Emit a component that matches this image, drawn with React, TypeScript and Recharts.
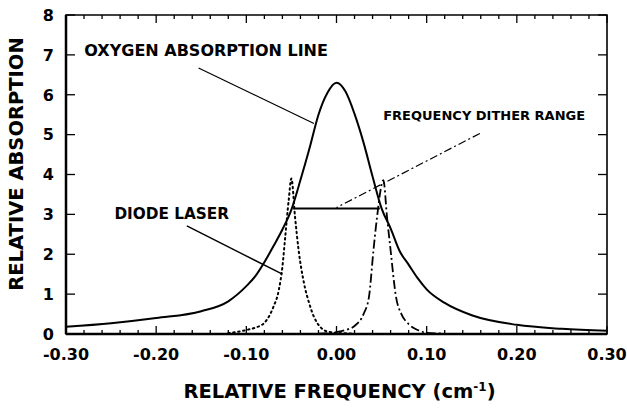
import { LineChart, Line, XAxis, YAxis, ReferenceArea, ReferenceLine, ReferenceDot, Label } from 'recharts';

// relative frequency (cm-1) vs relative absorption
const oxygenFreq = [-0.3, -0.25, -0.2, -0.15, -0.12, -0.1, -0.09, -0.08, -0.07, -0.06, -0.05, -0.04, -0.03, -0.02, -0.01, 0, 0.01, 0.02, 0.03, 0.04, 0.05, 0.06, 0.07, 0.08, 0.09, 0.1, 0.12, 0.15, 0.2, 0.25, 0.3];
const oxygenAbs = [0.18, 0.27, 0.4, 0.57, 0.82, 1.2, 1.45, 1.8, 2.2, 2.62, 3.12, 3.86, 4.65, 5.5, 6.05, 6.3, 6.08, 5.52, 4.8, 3.95, 3.15, 2.65, 2.08, 1.74, 1.4, 1.12, 0.78, 0.47, 0.23, 0.13, 0.08];

// diode laser tuned to the low side (dotted)
const laserLowFreq = [-0.12, -0.1, -0.09, -0.08, -0.07, -0.064, -0.06, -0.057, -0.053, -0.05, -0.046, -0.042, -0.036, -0.03, -0.025, -0.01, 0, 0.02];
const laserLowAbs = [0.02, 0.1, 0.16, 0.28, 0.68, 1.1, 1.69, 2.4, 3.36, 3.9, 2.94, 2.1, 1.27, 0.75, 0.43, 0.06, 0.03, 0.01];

// diode laser tuned to the high side (dash-dot)
const laserHighFreq = [-0.02, 0, 0.01, 0.02, 0.03, 0.036, 0.041, 0.045, 0.052, 0.056, 0.06, 0.066, 0.072, 0.08, 0.09, 0.1, 0.12];
const laserHighAbs = [0.01, 0.05, 0.1, 0.2, 0.5, 0.93, 2.1, 2.94, 3.86, 2.94, 2.1, 0.93, 0.5, 0.25, 0.1, 0.03, 0.01];

// dither range bar
const ditherFreq = [-0.048, 0.048];
const ditherAbs = [3.15, 3.15];

const freqTicks = [-0.3, -0.28, -0.26, -0.24, -0.22, -0.2, -0.18, -0.16, -0.14, -0.12, -0.1, -0.08, -0.06, -0.04, -0.02, 0, 0.02, 0.04, 0.06, 0.08, 0.1, 0.12, 0.14, 0.16, 0.18, 0.2, 0.22, 0.24, 0.26, 0.28, 0.3];
const majorFreq = [-0.3, -0.2, -0.1, 0, 0.1, 0.2, 0.3];
const majorFreqLabels = ['-0.30', '-0.20', '-0.10', '0.00', '0.10', '0.20', '0.30'];
const absTicks = [0, 1, 2, 3, 4, 5, 6, 7, 8];

const toPoints = (xs: number[], ys: number[]) => xs.map((x, i) => ({ x, y: ys[i] }));
const oxygen = toPoints(oxygenFreq, oxygenAbs);
const laserLow = toPoints(laserLowFreq, laserLowAbs);
const laserHigh = toPoints(laserHighFreq, laserHighAbs);
const dither = toPoints(ditherFreq, ditherAbs);

const W = 627;
const H = 408;
const PLOT_LEFT = 66;
const PLOT_RIGHT = 607;
const PLOT_TOP = 15;
const PLOT_BOTTOM = 334;
const FONT = '"DejaVu Sans", sans-serif';

function FreqTick(props: any) {
  const { x, payload } = props;
  const idx = majorFreq.findIndex((m) => Math.abs(m - payload.value) < 1e-6);
  const len = idx >= 0 ? 8 : 4;
  return (
    <g>
      <line x1={x} x2={x} y1={PLOT_BOTTOM} y2={PLOT_BOTTOM - len} stroke="#000" strokeWidth={1.3} />
      <line x1={x} x2={x} y1={PLOT_TOP} y2={PLOT_TOP + len} stroke="#000" strokeWidth={1.3} />
      {idx >= 0 && (
        <text x={x} y={PLOT_BOTTOM + 26} textAnchor="middle" fontFamily={FONT} fontWeight="bold" fontSize={16} fill="#000">
          {majorFreqLabels[idx]}
        </text>
      )}
    </g>
  );
}

function AbsTick(props: any) {
  const { y, payload } = props;
  return (
    <g>
      <line x1={PLOT_LEFT} x2={PLOT_LEFT + 9} y1={y} y2={y} stroke="#000" strokeWidth={1.3} />
      <line x1={PLOT_RIGHT - 9} x2={PLOT_RIGHT} y1={y} y2={y} stroke="#000" strokeWidth={1.3} />
      <text x={54} y={y} dy="0.36em" textAnchor="end" fontFamily={FONT} fontWeight="bold" fontSize={16} fill="#000">
        {payload.value}
      </text>
    </g>
  );
}

function callout(text: string, size: number) {
  return (p: any) => (
    <text x={p.viewBox.x} y={p.viewBox.y} dy="0.36em" fontFamily={FONT} fontWeight="bold" fontSize={size} fill="#000">
      {text}
    </text>
  );
}

export default function App() {
  return (
    <div style={{ position: 'absolute', left: 0, top: 0, width: W, height: H, background: '#fff' }}>
      <LineChart width={W} height={H} margin={{ top: PLOT_TOP, right: W - PLOT_RIGHT, left: 0, bottom: 0 }}>
        <XAxis
          dataKey="x"
          type="number"
          domain={[-0.3, 0.3]}
          ticks={freqTicks}
          interval={0}
          height={H - PLOT_BOTTOM}
          axisLine={{ stroke: '#000', strokeWidth: 2.5 }}
          tickLine={false}
          tick={<FreqTick />}
          allowDataOverflow
        >
          <Label
            content={() => (
              <text x={(PLOT_LEFT + PLOT_RIGHT) / 2 + 3} y={398} textAnchor="middle" fontFamily={FONT} fontWeight="bold" fontSize={19.5} fill="#000">
                RELATIVE FREQUENCY (cm
                <tspan fontSize={12} dy={-7}>-1</tspan>
                <tspan dy={7}>)</tspan>
              </text>
            )}
          />
        </XAxis>
        <YAxis
          type="number"
          domain={[0, 8]}
          ticks={absTicks}
          interval={0}
          width={PLOT_LEFT}
          axisLine={{ stroke: '#000', strokeWidth: 2.5 }}
          tickLine={false}
          tick={<AbsTick />}
        >
          <Label
            content={() => (
              <text
                x={16}
                y={164}
                dy="0.36em"
                transform="rotate(-90, 16, 164)"
                textAnchor="middle"
                fontFamily={FONT}
                fontWeight="bold"
                fontSize={19.5}
                fill="#000"
              >
                RELATIVE ABSORPTION
              </text>
            )}
          />
        </YAxis>
        <ReferenceArea x1={-0.3} x2={0.3} y1={0} y2={8} fill="none" stroke="#000" strokeWidth={1.6} ifOverflow="visible" />

        <Line data={oxygen} dataKey="y" type="monotone" stroke="#000" strokeWidth={2} dot={false} isAnimationActive={false} />
        <Line data={laserLow} dataKey="y" type="monotone" stroke="#000" strokeWidth={2} strokeDasharray="1.5 3.5" strokeLinecap="round" dot={false} isAnimationActive={false} />
        <Line data={laserHigh} dataKey="y" type="monotone" stroke="#000" strokeWidth={1.8} strokeDasharray="9 3 2 3" dot={false} isAnimationActive={false} />
        <Line data={dither} dataKey="y" type="linear" stroke="#000" strokeWidth={2} dot={false} isAnimationActive={false} />

        <ReferenceLine segment={[{ x: -0.153, y: 6.67 }, { x: -0.025, y: 5.28 }]} stroke="#000" strokeWidth={1.2} ifOverflow="visible" />
        <ReferenceLine segment={[{ x: -0.166, y: 2.71 }, { x: -0.06, y: 1.5 }]} stroke="#000" strokeWidth={1.4} ifOverflow="visible" />
        <ReferenceLine segment={[{ x: 0.159, y: 5.03 }, { x: 0.0, y: 3.17 }]} stroke="#000" strokeWidth={1.2} strokeDasharray="8 3 2 3" ifOverflow="visible" />

        <ReferenceDot x={-0.2797} y={7.12} r={0} fill="none" stroke="none" ifOverflow="visible" label={callout('OXYGEN ABSORPTION LINE', 16)} />
        <ReferenceDot x={0.0518} y={5.49} r={0} fill="none" stroke="none" ifOverflow="visible" label={callout('FREQUENCY DITHER RANGE', 13)} />
        <ReferenceDot x={-0.2463} y={3.01} r={0} fill="none" stroke="none" ifOverflow="visible" label={callout('DIODE LASER', 15.3)} />
      </LineChart>
    </div>
  );
}
